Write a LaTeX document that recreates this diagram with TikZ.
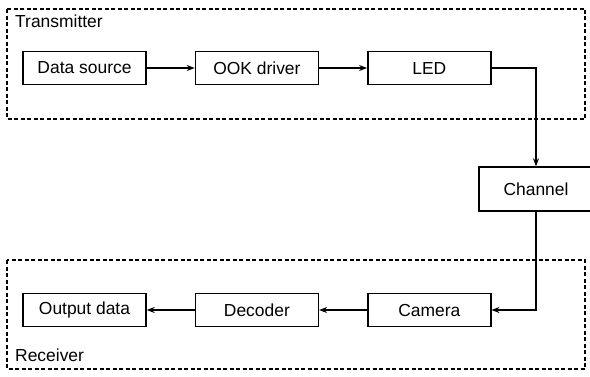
\documentclass[tikz,border=0pt]{standalone}
\usepackage{fontspec}
\setmainfont{Liberation Sans}
\usetikzlibrary{arrows.meta, positioning}

\begin{document}
\begin{tikzpicture}[>={Stealth[length=8bp, width=6bp]}, x=1bp, y=-1bp,
    block/.style={draw, line width=1.4bp, minimum width=123bp,
                  minimum height=33bp, inner sep=0pt,
                  font=\fontsize{17.5}{20}\selectfont},
    frame/.style={draw, dashed, line width=1.3bp,
                  dash pattern=on 4bp off 2.5bp},
    label/.style={anchor=west, inner sep=0pt,
                  font=\fontsize{17.5}{20}\selectfont},
    link/.style={->, line width=1.3bp}]
  \useasboundingbox (0,0) rectangle (590,376);
  % transmitter side
  \draw[frame] (7,9) rectangle (585,119);
  \node[label] (txlab) at (15,21) {Transmitter};
  \node[block] (src) at (84.5,68) {Data source};
  \node[block, right=48bp of src] (ook) {OOK driver};
  \node[block, right=48bp of ook] (led) {LED};
  % channel
  \node[block, minimum width=114bp, minimum height=44bp] (chan)
    at (536,189) {Channel};
  % receiver side
  \draw[frame] (7,260) rectangle (585,369);
  \node[label] (rxlab) at (15,355) {Receiver};
  \node[block] (out) at (84.5,310) {Output data};
  \node[block, right=48bp of out] (dec) {Decoder};
  \node[block, right=48bp of dec] (cam) {Camera};
  \draw[link] (src) -- (ook);
  \draw[link] (ook) -- (led);
  \draw[link] (led.east) -| (chan.north);
  \draw[link] (chan.south) |- (cam.east);
  \draw[link] (cam) -- (dec);
  \draw[link] (dec) -- (out);
\end{tikzpicture}
\end{document}
